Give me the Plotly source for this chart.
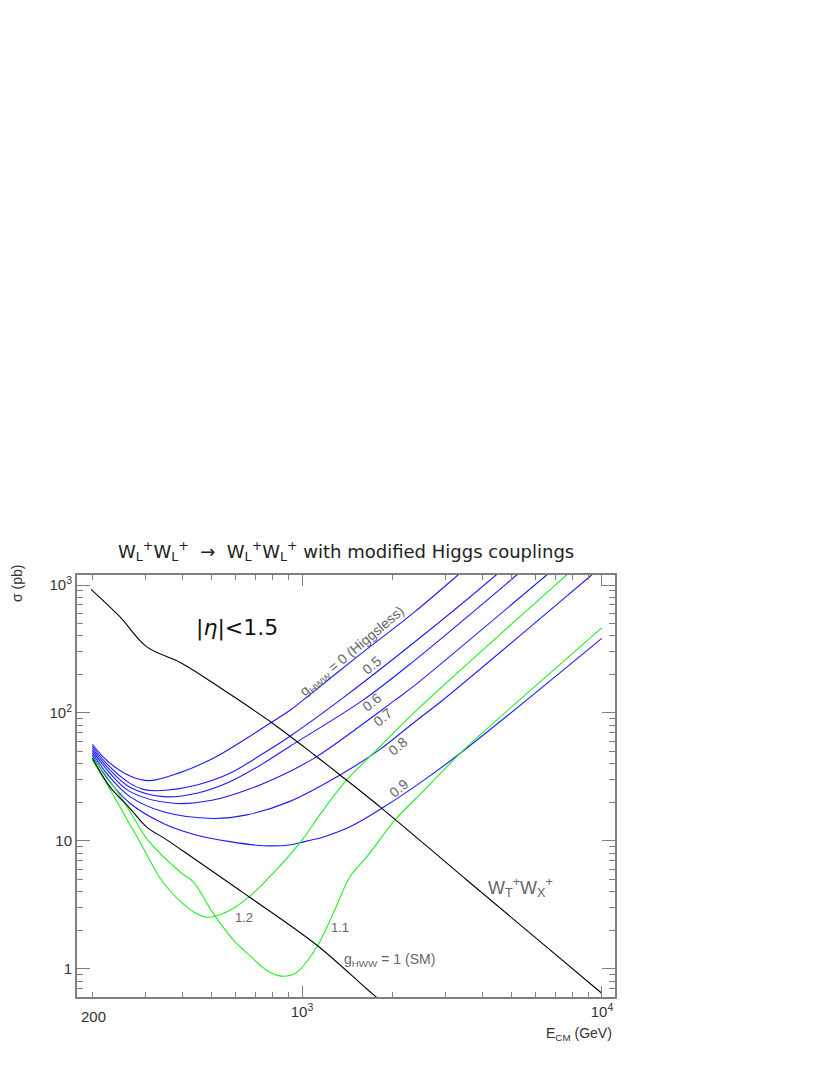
import math
import plotly.graph_objects as go

# ---------------- data ----------------
e_g00 = [200, 225, 267, 311, 392, 506, 654, 782, 907, 1008, 1500, 2380, 3311, 3450]
s_g00 = [57, 42, 32.2, 29.6, 34.2, 44.3, 63.4, 83.2, 104, 126, 266, 619, 1197, 1300]

e_g05 = [200, 225, 267, 296, 328, 446, 575, 743, 907, 1339, 2380, 4436, 4600]
s_g05 = [55, 39.5, 28.2, 25.3, 24.7, 27.4, 33.8, 48.4, 65.3, 126, 360, 1197, 1290]

e_g06 = [200, 225, 267, 345, 446, 575, 743, 907, 1597, 2380, 5200, 5400]
s_g06 = [53, 37.5, 26.3, 22.2, 23.6, 29.0, 40.4, 54.5, 126, 259, 1197, 1290]

e_g07 = [200, 225, 267, 373, 506, 654, 907, 1119, 2042, 2380, 6540, 6800]
s_g07 = [51, 35.5, 24.3, 19.7, 20.9, 25.0, 34.8, 45.6, 126, 165, 1197, 1290]

e_g08 = [200, 225, 267, 345, 506, 654, 907, 1339, 1820, 2380, 2921, 9240, 9600]
s_g08 = [49, 33, 22.2, 16.9, 15.0, 16.0, 20.3, 32.8, 52, 85.5, 124, 1197, 1290]

e_g09 = [200, 225, 267, 345, 446, 575, 743, 907, 985, 1200, 1445, 1845, 2606, 3540, 9980]
s_g09 = [47, 30.5, 19.7, 13.7, 11.1, 9.88, 9.19, 9.3, 9.7, 10.9, 12.9, 18, 31, 53, 383]

e_g12 = [200, 230, 267, 283, 334, 361, 400, 440, 479, 530, 600, 667, 763, 985, 1178, 1409, 1774, 2380, 7620, 7900]
s_g12 = [43, 24.9, 13.4, 10.6, 5.26, 4.14, 3.26, 2.75, 2.54, 2.64, 3.05, 3.67, 4.96, 9.7, 17.5, 30, 51.4, 102, 1197, 1290]

e_g11 = [200, 230, 267, 306, 397, 434, 506, 591, 688, 739, 790, 851, 900, 955, 1113, 1272, 1445, 1644, 2042, 2570, 3365, 3920, 9980]
s_g11 = [45, 29, 17, 10.2, 5.6, 4.8, 2.72, 1.68, 1.2, 1.03, 0.93, 0.88, 0.885, 0.93, 1.45, 2.72, 5.26, 7.5, 14.6, 25.3, 48.4, 67.3, 462]

e_sm = [200, 229, 267, 303, 352, 397, 618, 671, 1119, 1634, 1774, 1850]
s_sm = [44.5, 26.5, 18, 12.9, 10.3, 8.5, 4.14, 3.62, 1.54, 0.707, 0.6, 0.55]

e_wtwx = [198, 247, 303, 397, 560, 793, 1100, 1339, 1845, 3540, 9980]
s_wtwx = [925, 565, 330, 245, 146, 84, 47, 32.8, 18, 4.96, 0.646]

x_major = [1000, 10000]
x_major_text = ["10<sup>3</sup>", "10<sup>4</sup>"]
x_minor = [200, 300, 400, 500, 600, 700, 800, 900,
           2000, 3000, 4000, 5000, 6000, 7000, 8000, 9000]
y_major = [1, 10, 100, 1000]
y_major_text = ["1", "10", "10<sup>2</sup>", "10<sup>3</sup>"]
y_minor = [0.7, 0.8, 0.9, 2, 3, 4, 5, 6, 7, 8, 9,
           20, 30, 40, 50, 60, 70, 80, 90,
           200, 300, 400, 500, 600, 700, 800, 900]

# ---------------- figure ----------------
BLUE = "#1a1aff"
GREEN = "#22ee22"
BLACK = "#000000"
FONT = "Liberation Sans, Arial, sans-serif"
FONT2 = "DejaVu Sans, sans-serif"

fig = go.Figure()

def add(e, s, color):
    fig.add_trace(go.Scatter(x=e, y=s, mode="lines",
                             line=dict(color=color, width=1.1, shape="spline", smoothing=1.0),
                             hoverinfo="skip"))

for e, s in [(e_g00, s_g00), (e_g05, s_g05), (e_g06, s_g06),
             (e_g07, s_g07), (e_g08, s_g08), (e_g09, s_g09)]:
    add(e, s, BLUE)
add(e_g12, s_g12, GREEN)
add(e_g11, s_g11, GREEN)
add(e_sm, s_sm, BLACK)
add(e_wtwx, s_wtwx, BLACK)

OFF = 8  # default page body margin
L, R, T, B = 77 - OFF, 615 - OFF, 575 - OFF, 997 - OFF
W, H = 830 - OFF, 1075 - OFF

def pp(px, py):
    px -= OFF
    py -= OFF
    return (px - L) / (R - L), (B - py) / (B - T)

AX = "#808080"
axis_common = dict(type="log", showline=True, linecolor=AX, linewidth=2,
                   mirror="ticks", ticks="inside", tickcolor=AX, tickwidth=1.3,
                   showgrid=False, zeroline=False,
                   tickfont=dict(family=FONT, size=15, color="#333333"))

fig.update_layout(
    width=W, height=H,
    margin=dict(l=L, r=W - R, t=T, b=H - B),
    plot_bgcolor="white", paper_bgcolor="white",
    showlegend=False,
    xaxis=dict(range=[math.log10(177.8), math.log10(11050)],
               tickmode="array", tickvals=x_major, ticktext=x_major_text, ticklen=11,
               minor=dict(ticks="inside", tickmode="array", tickvals=x_minor,
                          ticklen=5, tickcolor=AX, tickwidth=1.2, showgrid=False),
               **axis_common),
    yaxis=dict(range=[math.log10(0.604), math.log10(1197)],
               tickmode="array", tickvals=y_major, ticktext=y_major_text, ticklen=13,
               minor=dict(ticks="inside", tickmode="array", tickvals=y_minor,
                          ticklen=6, tickcolor=AX, tickwidth=1.2, showgrid=False),
               **axis_common),
)

def note(text, px, py, size=14, color="#666666", angle=0, xanchor="center", family=FONT):
    x, y = pp(px, py)
    fig.add_annotation(text=text, x=x, y=y, xref="paper", yref="paper",
                       showarrow=False, textangle=angle, xanchor=xanchor, yanchor="middle",
                       font=dict(family=family, size=size, color=color))

# title
note("W<sub>L</sub><sup>+</sup>W<sub>L</sub><sup>+</sup>  →  W<sub>L</sub><sup>+</sup>W<sub>L</sub><sup>+</sup> with modified Higgs couplings",
     346, 551, size=18, color="#222222", family=FONT2)
# axis titles
note("σ (pb)", 17, 584, size=14, color="#333333", angle=-90)
note("E<sub>CM</sub> (GeV)", 614, 1034, size=14, color="#333333", xanchor="right")
note("200", 93, 1016, size=15, color="#333333")

# curve labels
note("|<i>η</i>|&lt;1.5", 237, 628, size=22, color="#111111", family=FONT2)
note("g<sub>HWW</sub> = 0 (Higgsless)", 352, 652, size=14, angle=-40)
note("0.5", 372, 665, size=14, angle=-40)
note("0.6", 372, 702, size=14, angle=-40)
note("0.7", 383, 717, size=14, angle=-40)
note("0.8", 398, 746, size=14, angle=-40)
note("0.9", 399, 788, size=14, angle=-40)
note("1.2", 244, 917, size=13)
note("1.1", 340, 927, size=13)
note("g<sub>HWW</sub> = 1 (SM)", 389, 960, size=14)
note("W<sub>T</sub><sup>+</sup>W<sub>X</sub><sup>+</sup>", 520, 887, size=18)

fig.write_html("out.html")
